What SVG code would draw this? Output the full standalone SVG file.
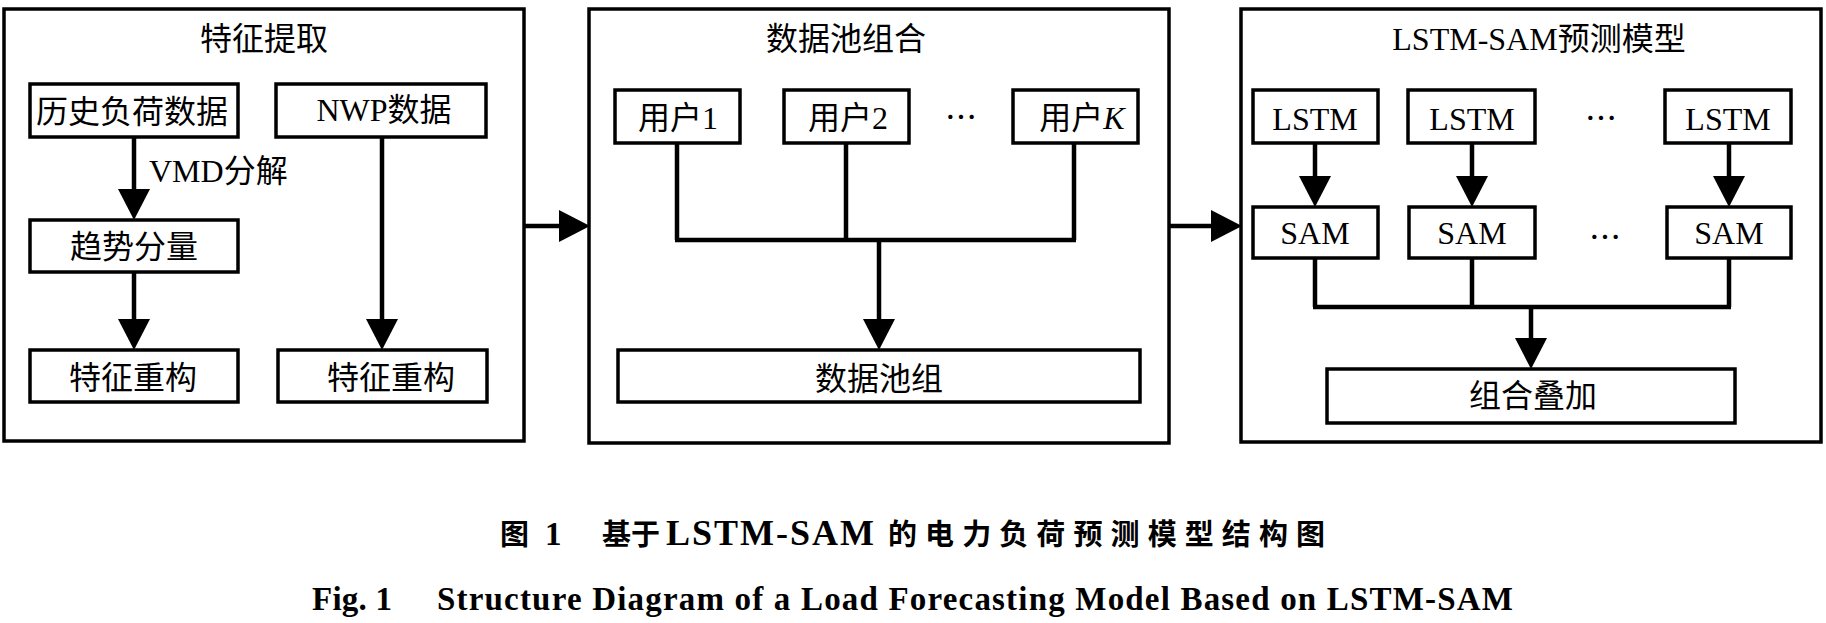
<svg xmlns="http://www.w3.org/2000/svg" width="1826" height="623" viewBox="0 0 1826 623">
<style>
.frame{fill:none;stroke:#000;stroke-width:3.5}
.box{fill:#fff;stroke:#000;stroke-width:3.5}
.t{font-family:"Liberation Serif","Noto Sans CJK SC",serif;font-size:32px;fill:#000;text-anchor:middle}
.tl{font-family:"Liberation Serif","Noto Sans CJK SC",serif;font-size:32px;fill:#000}
.dots{font-family:"Noto Sans CJK SC",sans-serif;font-size:32px;fill:#000;text-anchor:middle}
.wire{fill:none;stroke:#000;stroke-width:4.5}
.cap{font-family:"Noto Sans CJK SC",sans-serif;font-weight:bold;font-size:29px;fill:#000}
.capl{font-family:"Liberation Serif","Noto Sans CJK SC",serif;font-weight:bold;font-size:33px;fill:#000}
.capbig{font-size:36px}
</style>
<defs>
<marker id="ah" markerUnits="userSpaceOnUse" markerWidth="31" markerHeight="32" viewBox="0 0 31 32" refX="0" refY="16" orient="auto">
<path d="M0,0 L31,16 L0,32 Z" fill="#000"/>
</marker>
</defs>
<rect width="1826" height="623" fill="#fff"/>

<g id="panel-feature">
<rect class="frame" x="4" y="9" width="520" height="432"/>
<text class="t" x="264" y="50">特征提取</text>
</g>
<g id="panel-pool">
<rect class="frame" x="589" y="9" width="580" height="434"/>
<text class="t" x="846" y="50">数据池组合</text>
</g>
<g id="panel-model">
<rect class="frame" x="1241" y="9" width="580" height="433"/>
<text class="t" x="1539" y="50">LSTM-SAM预测模型</text>
</g>

<g id="connectors">
<line class="wire" x1="134" y1="137" x2="134" y2="189" marker-end="url(#ah)"/>
<line class="wire" x1="134" y1="272" x2="134" y2="319" marker-end="url(#ah)"/>
<line class="wire" x1="382" y1="137" x2="382" y2="319" marker-end="url(#ah)"/>
<line class="wire" x1="524" y1="226" x2="559" y2="226" marker-end="url(#ah)"/>
<path class="wire" d="M677,143 V240 M846,143 V240 M1074,143 V240 M675,240 H1076"/>
<line class="wire" x1="879" y1="240" x2="879" y2="319" marker-end="url(#ah)"/>
<line class="wire" x1="1169" y1="226" x2="1211" y2="226" marker-end="url(#ah)"/>
<line class="wire" x1="1315" y1="143" x2="1315" y2="176" marker-end="url(#ah)"/>
<line class="wire" x1="1472" y1="143" x2="1472" y2="176" marker-end="url(#ah)"/>
<line class="wire" x1="1729" y1="143" x2="1729" y2="176" marker-end="url(#ah)"/>
<path class="wire" d="M1315,258 V307 M1472,258 V307 M1729,258 V307 M1313,307 H1731"/>
<line class="wire" x1="1531" y1="307" x2="1531" y2="338" marker-end="url(#ah)"/>
<text class="tl" x="149" y="182">VMD分解</text>
</g>

<g id="n-history"><rect class="box" x="30" y="84" width="208" height="53"/><text class="t" x="132" y="123">历史负荷数据</text></g>
<g id="n-nwp"><rect class="box" x="276" y="84" width="210" height="53"/><text class="t" x="384" y="121">NWP数据</text></g>
<g id="n-trend"><rect class="box" x="30" y="220" width="208" height="52"/><text class="t" x="134" y="258">趋势分量</text></g>
<g id="n-recon1"><rect class="box" x="30" y="350" width="208" height="52"/><text class="t" x="133" y="389">特征重构</text></g>
<g id="n-recon2"><rect class="box" x="278" y="350" width="209" height="52"/><text class="t" x="391" y="389">特征重构</text></g>

<g id="n-user1"><rect class="box" x="615" y="90" width="125" height="53"/><text class="t" x="678" y="129">用户1</text></g>
<g id="n-user2"><rect class="box" x="784" y="90" width="125" height="53"/><text class="t" x="848" y="129">用户2</text></g>
<text class="dots" x="961" y="129">…</text>
<g id="n-userK"><rect class="box" x="1013" y="90" width="125" height="53"/><text class="t" x="1082" y="129">用户<tspan font-style="italic">K</tspan></text></g>
<g id="n-poolset"><rect class="box" x="618" y="350" width="522" height="52"/><text class="t" x="879" y="390">数据池组</text></g>

<g id="n-lstm1"><rect class="box" x="1253" y="90" width="125" height="53"/><text class="t" x="1315" y="130">LSTM</text></g>
<g id="n-lstm2"><rect class="box" x="1408" y="90" width="127" height="53"/><text class="t" x="1472" y="130">LSTM</text></g>
<text class="dots" x="1601" y="130">…</text>
<g id="n-lstm3"><rect class="box" x="1665" y="90" width="126" height="53"/><text class="t" x="1728" y="130">LSTM</text></g>
<g id="n-sam1"><rect class="box" x="1253" y="207" width="125" height="51"/><text class="t" x="1315" y="244">SAM</text></g>
<g id="n-sam2"><rect class="box" x="1409" y="207" width="126" height="51"/><text class="t" x="1472" y="244">SAM</text></g>
<text class="dots" x="1605" y="249">…</text>
<g id="n-sam3"><rect class="box" x="1667" y="207" width="124" height="51"/><text class="t" x="1729" y="244">SAM</text></g>
<g id="n-combine"><rect class="box" x="1327" y="369" width="408" height="54"/><text class="t" x="1533" y="407">组合叠加</text></g>

<g id="caption">
<text class="cap" x="500" y="545">图</text>
<text class="capl" x="545" y="545">1</text>
<text class="cap" x="602" y="545">基于</text>
<text class="capl capbig" x="666" y="545" textLength="208" lengthAdjust="spacing">LSTM-SAM</text>
<text class="cap" x="888" y="545" textLength="437" lengthAdjust="spacing">的电力负荷预测模型结构图</text>
<text class="capl" x="312" y="610" textLength="80" lengthAdjust="spacing">Fig. 1</text>
<text class="capl" x="437" y="610" textLength="1076" lengthAdjust="spacing">Structure Diagram of a Load Forecasting Model Based on LSTM-SAM</text>
</g>
</svg>
